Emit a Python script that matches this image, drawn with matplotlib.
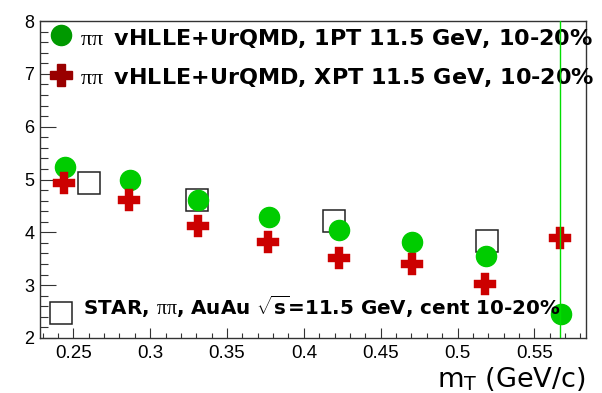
import matplotlib
matplotlib.use("Agg")
import matplotlib.pyplot as plt
from matplotlib.ticker import MultipleLocator, FixedLocator
import numpy as np

plt.rcParams['font.family'] = ['Liberation Sans', 'DejaVu Sans']
plt.rcParams['mathtext.fontset'] = 'custom'
plt.rcParams['mathtext.rm'] = 'Liberation Serif'
plt.rcParams['mathtext.sf'] = 'DejaVu Sans'
plt.rcParams['mathtext.bf'] = 'DejaVu Sans:bold'
plt.rcParams['mathtext.default'] = 'rm'

# data
mt_1pt = [0.2446, 0.2869, 0.3313, 0.3774, 0.4231, 0.4706, 0.5184, 0.5672]
r_1pt = [5.24, 5.00, 4.61, 4.29, 4.04, 3.82, 3.55, 2.46]
mt_xpt = [0.2441, 0.2864, 0.3310, 0.3769, 0.4229, 0.4704, 0.5179, 0.5667]
r_xpt = [4.94, 4.61, 4.12, 3.82, 3.52, 3.40, 3.02, 3.90]
mt_star = [0.2604, 0.3303, 0.4197, 0.5194]
r_star = [4.94, 4.62, 4.22, 3.84]
vline_x = 0.5668
xticks = [0.25, 0.3, 0.35, 0.4, 0.45, 0.5, 0.55]
xticklabels = ['0.25', '0.3', '0.35', '0.4', '0.45', '0.5', '0.55']
yticks = [2, 3, 4, 5, 6, 7, 8]

leg1 = r'$\pi\pi\,$ vHLLE+UrQMD, 1PT 11.5 GeV, 10-20%'
leg2 = r'$\pi\pi\,$ vHLLE+UrQMD, XPT 11.5 GeV, 10-20%'
leg3 = r'STAR, $\pi\pi$, AuAu $\sqrt{\mathbf{s}}$=11.5 GeV, cent 10-20%'

fig = plt.figure(figsize=(6.02, 3.93), dpi=100)
ax = fig.add_axes([40/602, 1-338/393, 545.7/602, 317/393])

green = '#00CC00'
red = '#CC0000'

ax.plot(mt_star, r_star, ls='none', marker='s', ms=15.5, mfc='none', mec='#222222', mew=1.1, zorder=2)
ax.plot(mt_1pt, r_1pt, ls='none', marker='o', ms=14.5, mfc=green, mec=green, zorder=3)
ax.plot(mt_xpt, r_xpt, ls='none', marker='P', ms=16, mfc=red, mec=red, mew=0.3, zorder=4)
ax.axvline(vline_x, color='#00DD00', lw=1.0, zorder=5)

ax.set_xlim(0.2283, 0.5834)
ax.set_ylim(2, 8)
ax.xaxis.set_major_locator(FixedLocator(xticks))
ax.set_xticklabels(xticklabels)
ax.xaxis.set_minor_locator(MultipleLocator(0.01))
ax.yaxis.set_major_locator(FixedLocator(yticks))
ax.yaxis.set_minor_locator(MultipleLocator(0.2))
ax.tick_params(axis='both', which='both', direction='in', top=False, right=False, color='#333333', width=0.8)
ax.tick_params(axis='y', which='major', length=11.5, labelsize=13, pad=4)
ax.tick_params(axis='y', which='minor', length=6)
ax.tick_params(axis='x', which='major', length=7.2, labelsize=13.5, pad=5)
ax.tick_params(axis='x', which='minor', length=3.6)
for s in ax.spines.values():
    s.set_linewidth(1.0)
    s.set_color('#333333')

ax.text(1.0, -0.155, r'm$_{\mathsf{T}}$ (GeV/c)', transform=ax.transAxes, ha='right', va='baseline',
        fontsize=19.5, family='DejaVu Sans')

# legend entries
ax.plot([0.0379], [0.956], transform=ax.transAxes, marker='o', ms=14.5, color='#009900', clip_on=False, ls='none')
ax.plot([0.0379], [0.830], transform=ax.transAxes, marker='P', ms=16, color='#990000', clip_on=False, ls='none')
ax.plot([0.0385], [0.0789], transform=ax.transAxes, marker='s', ms=15.5, mfc='none', mec='#222222', mew=1.1, clip_on=False, ls='none')
kw = dict(transform=ax.transAxes, fontweight='bold', va='baseline', ha='left', clip_on=False,
          family='DejaVu Sans')
ax.text(0.0733, 0.923, leg1, fontsize=16, **kw)
ax.text(0.0733, 0.802, leg2, fontsize=16, **kw)
ax.text(0.0784, 0.0726, leg3, fontsize=14.3, **kw)

fig.savefig('out.png', dpi=100)
